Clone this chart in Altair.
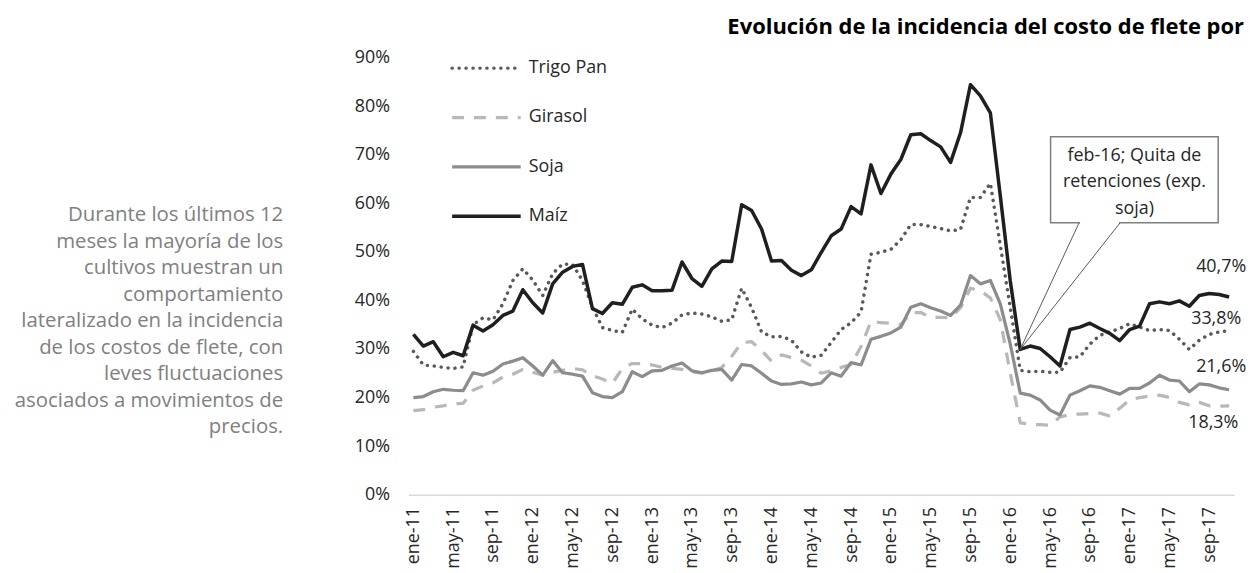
import altair as alt
import pandas as pd

# ---------------- data ----------------
abrev = ["ene", "feb", "mar", "abr", "may", "jun", "jul", "ago", "sep", "oct", "nov", "dic"]
meses = [f"{abrev[m]}-{a}" for a in range(11, 18) for m in range(12)][:83]  # ene-11 .. nov-17

trigo_pan = [29.5, 26.7, 26.5, 26.2, 26.0, 26.3, 35.0, 36.4, 36.0, 39.3,
             44.1, 46.5, 44.2, 41.0, 45.5, 47.5, 47.4, 44.1, 38.6, 34.4,
             33.8, 33.4, 38.2, 36.2, 34.9, 34.4, 35.3, 37.0, 37.4, 37.2,
             36.6, 35.7, 36.0, 42.5, 38.5, 33.5, 32.5, 32.6, 31.8, 29.4,
             28.3, 28.7, 31.3, 34.0, 35.4, 37.6, 49.5, 49.9, 50.5, 52.5,
             55.6, 55.6, 55.2, 54.8, 54.3, 54.6, 61.2, 61.2, 64.1, 51.3,
             38.5, 25.6, 25.3, 25.4, 25.2, 25.2, 28.2, 28.4, 31.0, 32.8,
             33.5, 34.2, 35.2, 34.5, 33.8, 34.0, 33.8, 32.0, 29.9, 31.8,
             33.0, 33.5, 33.8]

girasol = [17.3, 17.5, 18.0, 18.3, 18.7, 18.8, 21.5, 22.4, 23.0, 24.2,
           24.8, 25.8, 25.2, 24.6, 25.2, 25.6, 26.0, 25.7, 24.5, 23.8,
           22.9, 26.0, 27.0, 27.0, 26.7, 26.2, 26.0, 25.8, 25.3, 25.0,
           25.5, 26.2, 28.5, 31.3, 31.5, 29.7, 27.5, 28.8, 28.2, 27.7,
           26.5, 25.0, 25.5, 26.2, 26.8, 30.5, 35.7, 35.4, 35.3, 35.0,
           37.5, 37.5, 36.5, 36.5, 36.4, 38.5, 42.5, 42.0, 40.5, 36.0,
           25.0, 14.8, 14.5, 14.4, 14.3, 16.0, 16.5, 16.6, 16.7, 16.8,
           16.2, 17.8, 19.5, 20.0, 20.3, 20.5, 20.0, 19.0, 18.5, 19.0,
           18.3, 18.2, 18.3]

soja = [20.0, 20.2, 21.2, 21.7, 21.5, 21.4, 25.1, 24.6, 25.4, 26.9,
        27.5, 28.2, 26.5, 24.6, 27.6, 25.1, 24.8, 24.4, 21.0, 20.2,
        20.0, 21.2, 25.3, 24.3, 25.5, 25.6, 26.5, 27.1, 25.5, 25.1,
        25.6, 25.8, 23.6, 26.8, 26.5, 25.0, 23.4, 22.7, 22.8, 23.2,
        22.6, 23.0, 25.1, 24.4, 27.2, 26.7, 32.0, 32.6, 33.3, 34.5,
        38.6, 39.3, 38.5, 37.8, 36.9, 39.0, 45.1, 43.4, 44.1, 39.3,
        31.0, 20.9, 20.5, 19.5, 17.4, 16.4, 20.5, 21.4, 22.4, 22.1,
        21.4, 20.7, 21.9, 21.9, 23.0, 24.6, 23.6, 23.4, 21.2, 22.8,
        22.6, 22.0, 21.6]

maiz = [33.0, 30.6, 31.5, 28.4, 29.3, 28.6, 34.9, 33.7, 35.0, 36.9,
        37.8, 42.2, 39.5, 37.4, 43.4, 45.8, 47.0, 47.4, 38.3, 37.3,
        39.5, 39.2, 42.7, 43.2, 42.0, 42.0, 42.1, 47.9, 44.5, 42.9,
        46.5, 48.1, 48.0, 59.7, 58.5, 54.7, 48.1, 48.2, 46.2, 45.1,
        46.3, 49.9, 53.3, 54.7, 59.3, 57.8, 67.9, 62.0, 66.0, 69.0,
        74.1, 74.3, 72.9, 71.6, 68.4, 74.5, 84.4, 82.1, 78.6, 61.5,
        44.0, 29.9, 30.6, 30.1, 28.4, 26.5, 34.0, 34.5, 35.3, 34.2,
        33.2, 31.7, 34.0, 34.7, 39.3, 39.7, 39.3, 39.9, 38.8, 41.0,
        41.4, 41.2, 40.7]

series = ["Trigo Pan", "Girasol", "Soja", "Maíz"]
valores = {"Trigo Pan": trigo_pan, "Girasol": girasol, "Soja": soja, "Maíz": maiz}

titulo = "Evolución de la incidencia del costo de flete por"
nota = ["Durante los últimos 12", "meses la mayoría de los", "cultivos muestran un",
        "comportamiento", "lateralizado en la incidencia", "de los costos de flete, con",
        "leves fluctuaciones", "asociados a movimientos de", "precios."]
callout = ["feb-16; Quita de", "retenciones (exp.", "soja)"]
callout_mes = "feb-16"
callout_serie = "Maíz"

rows = []
for s in series:
    for m, v in zip(meses, valores[s]):
        rows.append({"mes": m, "serie": s, "valor": v})
df = pd.DataFrame(rows)

# ---------------- styles ----------------
FONT = "Open Sans"
TXT = "#262626"
estilo = {
    "Trigo Pan": dict(color="#595959", strokeWidth=3.5, strokeDash=[0.1, 6.9], strokeCap="round"),
    "Girasol": dict(color="#b8b8b8", strokeWidth=3.25, strokeDash=[12, 10], strokeCap="butt"),
    "Soja": dict(color="#8c8c8c", strokeWidth=3.25, strokeCap="butt"),
    "Maíz": dict(color="#1f1f1f", strokeWidth=3.5, strokeCap="butt"),
}

W, H = 831, 440
x_enc = alt.X("mes:O", sort=meses,
              scale=alt.Scale(type="point", domain=meses, padding=0.5),
              axis=alt.Axis(values=meses[::4], labelAngle=270, ticks=False, labelPadding=12,
                            domainColor="#d9d9d9", domainWidth=1.5, grid=False, title=None,
                            labelFont=FONT, labelFontSize=18, labelColor=TXT))
y_enc = alt.Y("valor:Q", scale=alt.Scale(domain=[0, 90], nice=False, zero=True),
              axis=alt.Axis(values=list(range(0, 100, 10)), labelExpr="datum.value + '%'",
                            domain=False, ticks=False, grid=False, labelPadding=19, title=None,
                            labelFont=FONT, labelFontSize=18, labelColor=TXT))

layers = []
base = alt.Chart(df)
for s in series:
    layers.append(base.transform_filter(alt.datum.serie == s)
                  .mark_line(strokeJoin="round", **estilo[s])
                  .encode(x=x_enc, y=y_enc))

one = alt.Data(values=[{"k": 1}])

# legend (inside plot, top-left)
leg_y0, leg_step = 10.7, 49.7
for k, s in enumerate(series):
    yy = leg_y0 + k * leg_step
    layers.append(alt.Chart(one).mark_rule(**estilo[s]).encode(
        x=alt.value(44), x2=alt.value(113), y=alt.value(yy)))
    layers.append(alt.Chart(one).mark_text(align="left", baseline="middle", font=FONT,
                                           fontSize=18, color=TXT).encode(
        x=alt.value(121), y=alt.value(yy), text=alt.value(s)))

# end labels
offs = {"Maíz": (-8, -30), "Trigo Pan": (-13, -12), "Soja": (-8, -23), "Girasol": (-16, 17)}
for s in series:
    last = pd.DataFrame([{"mes": meses[-1], "valor": valores[s][-1],
                          "etq": f"{valores[s][-1]:.1f}%".replace(".", ",")}])
    dx, dy = offs[s]
    layers.append(alt.Chart(last).mark_text(align="center", baseline="middle", font=FONT,
                                            fontSize=18, color=TXT, dx=dx, dy=dy).encode(
        x=x_enc, y=y_enc, text="etq:N"))

# left note
for k, line in enumerate(nota):
    layers.append(alt.Chart(one).mark_text(align="right", baseline="middle", font=FONT,
                                           fontSize=20.5, color="#808080").encode(
        x=alt.value(-126), y=alt.value(159 + 26.67 * k), text=alt.value(line)))

# title
layers.append(alt.Chart(one).mark_text(align="left", baseline="middle", font=FONT,
                                       fontSize=22.1, fontWeight="bold", color="#000000").encode(
    x=alt.value(321), y=alt.value(-31), text=alt.value(titulo)))

# callout box
bx0, bx1, by0, by1 = 646.3, 815, 79.7, 166.3
gx0, gx1 = 675, 716.3
layers.append(alt.Chart(one).mark_rect(fill="white", stroke="#7f7f7f", strokeWidth=1.5).encode(
    x=alt.value(bx0), x2=alt.value(bx1), y=alt.value(by0), y2=alt.value(by1)))
layers.append(alt.Chart(one).mark_rule(color="white", strokeWidth=3).encode(
    x=alt.value(gx0 + 1), x2=alt.value(gx1 - 1), y=alt.value(by1)))
tip = df[(df.mes == callout_mes) & (df.serie == callout_serie)]
for gx in (gx0, gx1):
    layers.append(alt.Chart(tip).mark_rule(color="#595959", strokeWidth=1).encode(
        x=x_enc, y=y_enc, x2=alt.value(gx), y2=alt.value(by1)))
for k, line in enumerate(callout):
    layers.append(alt.Chart(one).mark_text(align="center", baseline="middle", font=FONT,
                                           fontSize=18, color=TXT).encode(
        x=alt.value(730.7), y=alt.value(99 + 26.67 * k), text=alt.value(line)))

chart = alt.layer(*layers).properties(
    width=W, height=H,
    autosize=alt.AutoSizeParams(type="none"),
    padding={"left": 403, "top": 48, "right": 15, "bottom": 77},
    background="white",
).configure_view(strokeWidth=0)

chart.save("out.html", embed_options={"renderer": "svg", "actions": False})
